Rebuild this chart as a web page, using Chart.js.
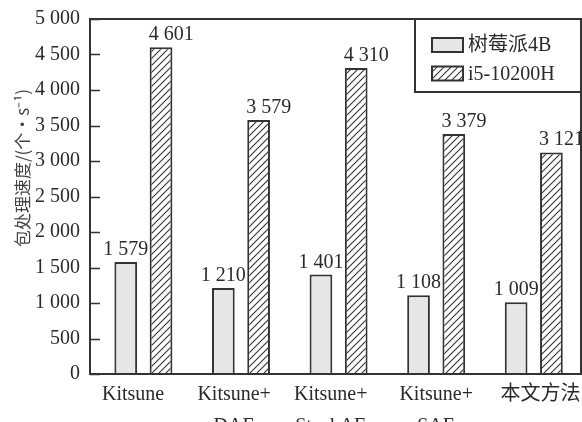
<!DOCTYPE html>
<html>
<head>
<meta charset="utf-8">
<script src="https://cdn.jsdelivr.net/npm/chart.js@4/dist/chart.umd.min.js"></script>
<style>
  html, body { margin: 0; padding: 0; background: #fff; }
  canvas { display: block; }
</style>
</head>
<body>
<canvas id="c" width="582" height="422"></canvas>
<script>
// Packet processing speed per method, on two platforms
const categories = [['Kitsune'], ['Kitsune+', 'DAE'], ['Kitsune+', 'StackAE'], ['Kitsune+', 'SAE'], ['本文方法']];
const seriesNames = ['树莓派4B', 'i5-10200H'];
const raspberryPi = [1579, 1210, 1401, 1108, 1009];
const i5Desktop = [4601, 3579, 4310, 3379, 3121];
const yTickValues = [0, 500, 1000, 1500, 2000, 2500, 3000, 3500, 4000, 4500, 5000];
const yTitle = '包处理速度/(个·s⁻¹)';

const SERIF = '"Liberation Serif", "Noto Sans CJK SC", serif';
const INK = '#2a2a2a';
const fmt = v => String(v).replace(/\B(?=(\d{3})+(?!\d))/g, ' ');

// small horizontal nudges (in category units) for the category captions
const captionNudge = [-0.105, -0.07, -0.08, 0, 0.07];

const canvas = document.getElementById('c');
const ctx = canvas.getContext('2d');

function hatchPattern() {
  const s = 7;
  const t = document.createElement('canvas');
  t.width = s; t.height = s;
  const g = t.getContext('2d');
  g.fillStyle = '#fff';
  g.fillRect(0, 0, s, s);
  g.strokeStyle = '#333';
  g.lineWidth = 1.1;
  g.beginPath();
  g.moveTo(0, s); g.lineTo(s, 0);
  g.moveTo(-1, 1); g.lineTo(1, -1);
  g.moveTo(s - 1, s + 1); g.lineTo(s + 1, s - 1);
  g.stroke();
  return ctx.createPattern(t, 'repeat');
}
const hatch = hatchPattern();

// Left-axis tick marks point into the plot; the plot is framed on all sides
const framePlugin = {
  id: 'frame',
  afterDatasetsDraw(chart) {
    const { ctx, chartArea: a, scales } = chart;
    ctx.save();
    ctx.strokeStyle = '#333';
    ctx.lineWidth = 2;
    ctx.strokeRect(a.left, a.top, a.right - a.left, a.bottom - a.top);
    ctx.lineWidth = 1.5;
    ctx.beginPath();
    scales.y.ticks.forEach(t => {
      const y = Math.round(scales.y.getPixelForValue(t.value)) + 0.5;
      ctx.moveTo(a.left, y);
      ctx.lineTo(a.left + 10, y);
    });
    ctx.stroke();
    ctx.restore();
  }
};

// Value labels above every bar
const valueLabels = {
  id: 'valueLabels',
  afterDatasetsDraw(chart) {
    const { ctx } = chart;
    ctx.save();
    ctx.font = '20px ' + SERIF;
    ctx.fillStyle = INK;
    ctx.textBaseline = 'alphabetic';
    chart.data.datasets.forEach((ds, di) => {
      chart.getDatasetMeta(di).data.forEach((bar, i) => {
        const text = fmt(ds.data[i].y);
        if (di === 0) {
          ctx.textAlign = 'center';
          ctx.fillText(text, bar.x, bar.y - 7);
        } else {
          ctx.textAlign = 'left';
          ctx.fillText(text, bar.x - bar.width / 2 - 1, bar.y - 7);
        }
      });
    });
    ctx.restore();
  }
};

// Boxed legend in the top-right corner of the plot
const boxLegend = {
  id: 'boxLegend',
  afterDraw(chart) {
    const { ctx, chartArea: a } = chart;
    const w = 166, h = 73;
    const x0 = a.right - w, y0 = a.top;
    ctx.save();
    ctx.fillStyle = '#fff';
    ctx.fillRect(x0, y0, w, h);
    ctx.strokeStyle = '#333';
    ctx.lineWidth = 2;
    ctx.strokeRect(x0, y0, w, h);
    ctx.font = '20px ' + SERIF;
    ctx.textBaseline = 'middle';
    ctx.textAlign = 'left';
    chart.data.datasets.forEach((ds, i) => {
      const sy = y0 + 19 + i * 28.5;
      ctx.fillStyle = ds.backgroundColor;
      ctx.fillRect(x0 + 17, sy, 31, 14);
      ctx.strokeStyle = '#333';
      ctx.lineWidth = 2;
      ctx.strokeRect(x0 + 17, sy, 31, 14);
      ctx.fillStyle = INK;
      ctx.fillText(ds.label, x0 + 53, sy + 8);
    });
    ctx.restore();
  }
};

// Rotated y-axis title
const yTitlePlugin = {
  id: 'yTitle',
  afterDraw(chart) {
    const { ctx } = chart;
    ctx.save();
    ctx.translate(23, 168);
    ctx.rotate(-Math.PI / 2);
    ctx.font = '17px "Noto Sans CJK SC", sans-serif';
    ctx.fillStyle = '#444';
    ctx.textAlign = 'center';
    ctx.textBaseline = 'middle';
    ctx.fillText(yTitle, 0, 0);
    ctx.restore();
  }
};

new Chart(canvas, {
  type: 'bar',
  data: {
    datasets: [
      {
        label: seriesNames[0],
        data: raspberryPi.map((v, i) => ({ x: i, y: v })),
        backgroundColor: '#e6e6e6',
        borderColor: '#333',
        borderWidth: 2
      },
      {
        label: seriesNames[1],
        data: i5Desktop.map((v, i) => ({ x: i, y: v })),
        backgroundColor: hatch,
        borderColor: '#333',
        borderWidth: 2
      }
    ]
  },
  options: {
    responsive: false,
    animation: false,
    devicePixelRatio: 1,
    categoryPercentage: 0.73,
    barPercentage: 0.644,
    layout: { padding: { top: 19, right: 1, left: 0, bottom: 0 } },
    plugins: {
      legend: { display: false },
      tooltip: { enabled: false }
    },
    scales: {
      x: {
        type: 'linear',
        offset: false,
        min: -0.547,
        max: 4.484,
        grid: { display: false, drawTicks: false },
        border: { display: false },
        afterBuildTicks(scale) {
          scale.ticks = categories.map((_, i) => ({ value: i + captionNudge[i] }));
        },
        afterFit(scale) {
          scale.height = 48;
          scale.paddingLeft = 0;
          scale.paddingRight = 0;
        },
        ticks: {
          autoSkip: false,
          maxRotation: 0,
          padding: 5,
          color: INK,
          font: { family: SERIF, size: 20, lineHeight: 1.6 },
          callback: (v, index) => categories[index]
        }
      },
      y: {
        min: 0,
        max: 5000,
        afterBuildTicks(scale) {
          scale.ticks = yTickValues.map(v => ({ value: v }));
        },
        grid: { display: false, drawTicks: false },
        border: { display: false },
        afterFit(scale) {
          scale.width = 90;
          scale.paddingTop = 0;
          scale.paddingBottom = 0;
        },
        ticks: {
          padding: 10,
          color: INK,
          font: { family: SERIF, size: 20 },
          callback: v => fmt(v)
        }
      }
    }
  },
  plugins: [framePlugin, valueLabels, boxLegend, yTitlePlugin]
});
</script>
</body>
</html>
